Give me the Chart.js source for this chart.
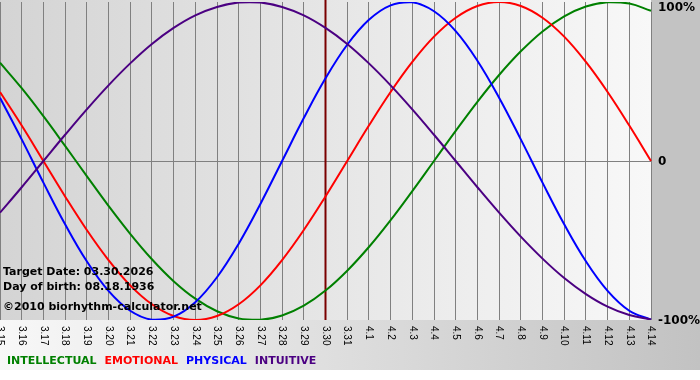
<!DOCTYPE html>
<html>
<head>
    <title>Biorhythm</title>
    <script src="https://cdn.jsdelivr.net/npm/chart.js"></script>
    <style>
        body { margin: 0; background: #fff; }
    </style>
</head>
<body>
<canvas id="myChart" width="700" height="380"></canvas>
<script>
    // days shown on the x axis
    var labels = ['3.15', '3.16', '3.17', '3.18', '3.19', '3.20', '3.21', '3.22', '3.23', '3.24', '3.25',
        '3.26', '3.27', '3.28', '3.29', '3.30', '3.31', '4.1', '4.2', '4.3', '4.4', '4.5', '4.6', '4.7',
        '4.8', '4.9', '4.10', '4.11', '4.12', '4.13', '4.14'];

    // cycle values in percent, one per day
    var intellectual = [61.8, 45.8, 28.2, 9.5, -9.5, -28.2, -45.8, -61.8, -75.6, -86.6, -94.5, -99.0, -99.9,
        -97.2, -91.0, -81.5, -69.0, -54.1, -37.2, -18.9, 0, 18.9, 37.2, 54.1, 69.0, 81.5, 91.0, 97.2, 99.9, 99.0, 94.5];
    var emotional = [43.4, 22.3, 0, -22.3, -43.4, -62.3, -78.2, -90.1, -97.5, -100, -97.5, -90.1, -78.2, -62.3,
        -43.4, -22.3, 0, 22.3, 43.4, 62.3, 78.2, 90.1, 97.5, 100, 97.5, 90.1, 78.2, 62.3, 43.4, 22.3, 0];
    var physical = [39.8, 13.6, -13.6, -39.8, -63.1, -81.7, -94.2, -99.8, -97.9, -88.8, -73.1, -52.0, -27.0, 0,
        27.0, 52.0, 73.1, 88.8, 97.9, 99.8, 94.2, 81.7, 63.1, 39.8, 13.6, -13.6, -39.8, -63.1, -81.7, -94.2, -99.8];
    var intuitive = [-32.5, -16.5, 0, 16.5, 32.5, 47.6, 61.4, 73.6, 83.7, 91.6, 96.9, 99.7, 99.7, 96.9, 91.6,
        83.7, 73.6, 61.4, 47.6, 32.5, 16.5, 0, -16.5, -32.5, -47.6, -61.4, -73.6, -83.7, -91.6, -96.9, -99.7];

    var yTicks = [100, 0, -100];
    var yTickLabels = ['100%', '0', '-100%'];
    var targetDay = '3.30';
    var infoLines = ['Target Date: 03.30.2026', 'Day of birth: 08.18.1936', '\u00a92010 biorhythm-calculator.net'];
    var legendNames = ['INTELLECTUAL', 'EMOTIONAL', 'PHYSICAL', 'INTUITIVE'];
    var legendColors = ['#008000', '#ff0000', '#0000ff', '#4b0082'];

    var decor = {
        id: 'decor',
        beforeDraw: function (chart) {
            var c = chart.ctx, a = chart.chartArea;
            c.save();
            c.fillStyle = '#fff';
            c.fillRect(0, 0, chart.width, chart.height);
            // bottom band
            var g = c.createLinearGradient(0, 0, chart.width, 0);
            g.addColorStop(0, '#f8f8f8');
            g.addColorStop(1, '#c2c2c2');
            c.fillStyle = g;
            c.fillRect(0, a.bottom, chart.width, 370 - a.bottom);
            // right margin
            c.fillStyle = '#c3c3c3';
            c.fillRect(a.right, 0, chart.width - a.right, a.bottom);
            // plot background
            var pg = c.createLinearGradient(a.left, 0, a.right, 0);
            pg.addColorStop(0, '#d4d4d4');
            pg.addColorStop(1, '#f8f8f8');
            c.fillStyle = pg;
            c.fillRect(a.left, 0, a.right - a.left, a.bottom);
            c.restore();
        },
        beforeDatasetsDraw: function (chart) {
            var c = chart.ctx, a = chart.chartArea;
            var x = chart.scales.x.getPixelForValue(labels.indexOf(targetDay));
            c.save();
            c.strokeStyle = '#7a0000';
            c.lineWidth = 2;
            c.beginPath();
            c.moveTo(x, 0);
            c.lineTo(x, a.bottom);
            c.stroke();
            c.restore();
        },
        afterDraw: function (chart) {
            var c = chart.ctx, a = chart.chartArea;
            var xs = chart.scales.x, ys = chart.scales.y;
            c.save();
            // rotated day labels
            c.fillStyle = '#000';
            c.font = '10px "Liberation Sans"';
            c.textAlign = 'left';
            c.textBaseline = 'middle';
            labels.forEach(function (lab, i) {
                c.save();
                c.translate(xs.getPixelForValue(i), a.bottom + 6);
                c.rotate(Math.PI / 2);
                c.fillText(lab, 0, 0);
                c.restore();
            });
            // percent labels
            c.font = 'bold 12px "DejaVu Sans"';
            yTicks.forEach(function (v, i) {
                var y = Math.max(ys.getPixelForValue(v), 7);
                c.fillText(yTickLabels[i], a.right + 7, y + 1);
            });
            // info text
            c.font = 'bold 11px "DejaVu Sans"';
            c.fillText(infoLines[0], 3, 272);
            c.fillText(infoLines[1], 3, 287);
            c.fillText(infoLines[2], 3, 307);
            // legend
            var lx = 7;
            legendNames.forEach(function (n, i) {
                c.fillStyle = legendColors[i];
                c.fillText(n, lx, 361);
                lx += c.measureText(n).width + 8;
            });
            c.restore();
        }
    };

    function line(data, color) {
        return {
            data: data,
            borderColor: color,
            borderWidth: 2,
            pointRadius: 0,
            tension: 0.4,
            fill: false
        };
    }

    var ctx = document.getElementById('myChart').getContext('2d');
    var chart = new Chart(ctx, {
        type: 'line',
        data: {
            labels: labels,
            datasets: [
                line(intuitive, legendColors[3]),
                line(physical, legendColors[2]),
                line(emotional, legendColors[1]),
                line(intellectual, legendColors[0])
            ]
        },
        options: {
            responsive: false,
            animation: false,
            layout: { padding: { top: 2, left: 0, right: 0, bottom: 0 } },
            plugins: { legend: { display: false }, tooltip: { enabled: false } },
            scales: {
                x: {
                    offset: false,
                    ticks: { display: false },
                    grid: { color: '#808080', drawTicks: false },
                    border: { display: false },
                    afterFit: function (s) { s.height = 60; }
                },
                y: {
                    position: 'right',
                    min: -100,
                    max: 100,
                    ticks: { display: false, stepSize: 100 },
                    grid: {
                        drawTicks: false,
                        color: function (c) { return c.tick && c.tick.value === 0 ? '#808080' : 'rgba(0,0,0,0)'; }
                    },
                    border: { display: false },
                    afterFit: function (s) { s.width = 49; }
                }
            }
        },
        plugins: [decor]
    });
</script>
</body>
</html>
